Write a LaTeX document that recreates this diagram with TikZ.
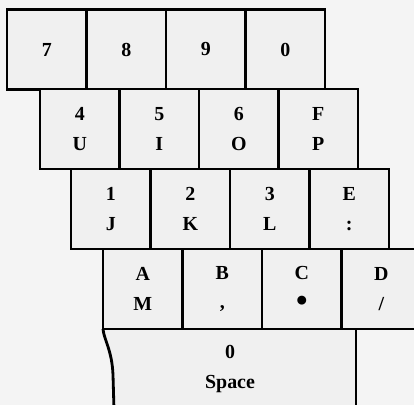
\documentclass[tikz,border=0pt]{standalone}
\usepackage{fontspec}
\setmainfont{Liberation Serif}
\begin{document}
\begin{tikzpicture}[x=0.03cm, y=-0.03cm,
  every node/.style={font=\fontsize{17}{25}\selectfont\bfseries},
  key/.style={draw, line width=2.4pt, fill=gray!12, minimum width=2.385cm, minimum height=2.4cm, align=center, inner sep=0pt}]
\fill[gray!9] (0,0) rectangle (414,405);
\clip (0,0) rectangle (414,405);
% Space bar
\fill[gray!12] (103,329) .. controls (104,340) and (112,350) .. (113,375) -- (114,410) -- (356,410) -- (356,329) -- cycle;
\draw[line width=2.4pt] (103,329) .. controls (104,340) and (112,350) .. (113,375) -- (114,410);
\draw[line width=2.4pt] (356,329) -- (356,410);
\node[align=center] (kspace) at (230,369) {0\\Space};
% Row 1
\node[key] (k7) at (46.8,49.5) {7};
\node[key] (k8) at (126.3,49.5) {8};
\node[key] (k9) at (205.8,49.5) {9};
\node[key] (k0) at (285.3,49.5) {0};
% Row 2
\node[key] (kU) at (79.8,129) {4\\U};
\node[key] (kI) at (159.3,129) {5\\I};
\node[key] (kO) at (238.8,129) {6\\O};
\node[key] (kP) at (318.3,129) {F\\P};
% Row 3
\node[key] (kJ) at (110.8,209) {1\\J};
\node[key] (kK) at (190.3,209) {2\\K};
\node[key] (kL) at (269.8,209) {3\\L};
\node[key] (kE) at (349.3,209) {E\\:};
% Row 4
\node[key] (kM) at (142.8,289) {A\\M};
\node[key] (kB) at (222.3,289) {B\\,};
\node[key] (kC) at (301.8,289) {C\\\raisebox{-2pt}{\fontsize{28}{25}\selectfont\textbullet}};
\node[key] (kD) at (381.3,289) {D\\/};
\end{tikzpicture}
\end{document}
